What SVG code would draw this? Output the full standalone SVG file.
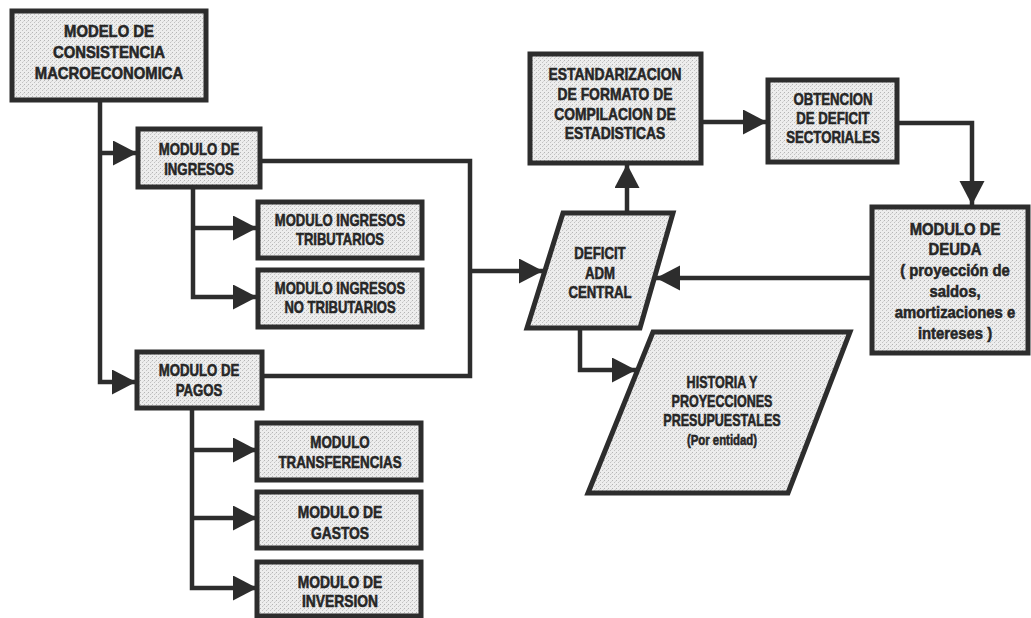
<svg xmlns="http://www.w3.org/2000/svg" width="1031" height="618" viewBox="0 0 1031 618">
  <defs>
    <!-- fine halftone grain used as box fill -->
    <pattern id="grain" width="4" height="4" patternUnits="userSpaceOnUse">
      <rect width="4" height="4" fill="#ededed"/>
      <rect x="0" y="0" width="1" height="1" fill="#b5b5b5"/>
      <rect x="2" y="2" width="1" height="1" fill="#c2c2c2"/>
      <rect x="3" y="1" width="1" height="1" fill="#d6d6d6"/>
    </pattern>
    <marker id="arrow" markerUnits="userSpaceOnUse" markerWidth="26" markerHeight="26" refX="24" refY="12.5" orient="auto">
      <path d="M0,0 L24,12.5 L0,25 z" fill="#2d2d2d"/>
    </marker>
    <style>
      .box { fill: url(#grain); stroke: #2d2d2d; stroke-width: 5; stroke-linejoin: miter; }
      .link { fill: none; stroke: #2d2d2d; stroke-width: 4.5; stroke-linejoin: miter; }
      .t { font-family: "Liberation Sans", Arial, sans-serif; font-weight: bold; font-size: 16.5px; fill: #262626; stroke: #262626; stroke-width: 0.55; text-anchor: middle; }
      .s { font-size: 15px; }
    </style>
  </defs>

  <rect width="1031" height="618" fill="#ffffff"/>

  <!-- connectors -->
  <g id="connectors">
    <path class="link" d="M100,100 V382 H136" marker-end="url(#arrow)"/>
    <path class="link" d="M100,153 H137" marker-end="url(#arrow)"/>
    <path class="link" d="M193,187 V297 H257" marker-end="url(#arrow)"/>
    <path class="link" d="M193,228 H257" marker-end="url(#arrow)"/>
    <path class="link" d="M192,408 V588 H257" marker-end="url(#arrow)"/>
    <path class="link" d="M192,450 H257" marker-end="url(#arrow)"/>
    <path class="link" d="M192,518 H257" marker-end="url(#arrow)"/>
    <path class="link" d="M260,161 H470 V376 H262"/>
    <path class="link" d="M470,271 H543" marker-end="url(#arrow)"/>
    <path class="link" d="M627,213 V164" marker-end="url(#arrow)"/>
    <path class="link" d="M701,122 H767" marker-end="url(#arrow)"/>
    <path class="link" d="M897,123 H972 V205" marker-end="url(#arrow)"/>
    <path class="link" d="M872,278 H656" marker-end="url(#arrow)"/>
    <path class="link" d="M580,328 V370 H636" marker-end="url(#arrow)"/>
  </g>

  <g id="modelo">
    <rect class="box" x="12" y="11" width="194" height="89"/>
    <text class="t" transform="translate(109 0) scale(0.9 1)"><tspan x="0" y="37">MODELO DE</tspan><tspan x="0" y="58">CONSISTENCIA</tspan><tspan x="0" y="79">MACROECONOMICA</tspan></text>
  </g>

  <g id="ingresos">
    <rect class="box" x="138" y="129" width="122" height="58"/>
    <text class="t" transform="translate(199 0) scale(0.8 1)"><tspan x="0" y="155">MODULO DE</tspan><tspan x="0" y="175">INGRESOS</tspan></text>
  </g>

  <g id="ing-tributarios">
    <rect class="box" x="258" y="202" width="164" height="56"/>
    <text class="t" transform="translate(340 0) scale(0.79 1)"><tspan x="0" y="226">MODULO INGRESOS</tspan><tspan x="0" y="245">TRIBUTARIOS</tspan></text>
  </g>

  <g id="ing-no-tributarios">
    <rect class="box" x="258" y="270" width="164" height="57"/>
    <text class="t" transform="translate(340 0) scale(0.79 1)"><tspan x="0" y="294">MODULO INGRESOS</tspan><tspan x="0" y="313">NO TRIBUTARIOS</tspan></text>
  </g>

  <g id="pagos">
    <rect class="box" x="137" y="352" width="125" height="56"/>
    <text class="t" transform="translate(199 0) scale(0.8 1)"><tspan x="0" y="376">MODULO DE</tspan><tspan x="0" y="396">PAGOS</tspan></text>
  </g>

  <g id="transferencias">
    <rect class="box" x="257" y="423" width="164" height="57"/>
    <text class="t" transform="translate(340 0) scale(0.81 1)"><tspan x="0" y="448">MODULO</tspan><tspan x="0" y="468">TRANSFERENCIAS</tspan></text>
  </g>

  <g id="gastos">
    <rect class="box" x="257" y="492" width="164" height="56"/>
    <text class="t" transform="translate(340 0) scale(0.84 1)"><tspan x="0" y="518">MODULO DE</tspan><tspan x="0" y="539">GASTOS</tspan></text>
  </g>

  <g id="inversion">
    <rect class="box" x="257" y="562" width="164" height="54"/>
    <text class="t" transform="translate(340 0) scale(0.84 1)"><tspan x="0" y="588">MODULO DE</tspan><tspan x="0" y="607">INVERSION</tspan></text>
  </g>

  <g id="estandarizacion">
    <rect class="box" x="530" y="54" width="171" height="109"/>
    <text class="t" transform="translate(615 0) scale(0.84 1)"><tspan x="0" y="80">ESTANDARIZACION</tspan><tspan x="0" y="100">DE FORMATO DE</tspan><tspan x="0" y="120">COMPILACION DE</tspan><tspan x="0" y="139">ESTADISTICAS</tspan></text>
  </g>

  <g id="obtencion">
    <rect class="box" x="768" y="80" width="129" height="82"/>
    <text class="t" transform="translate(833 0) scale(0.8 1)"><tspan x="0" y="105">OBTENCION</tspan><tspan x="0" y="124">DE DEFICIT</tspan><tspan x="0" y="143">SECTORIALES</tspan></text>
  </g>

  <g id="deuda">
    <rect class="box" x="872" y="207" width="156" height="146"/>
    <text class="t" transform="translate(955 0) scale(0.9 1)"><tspan x="0" y="235">MODULO DE</tspan><tspan x="0" y="255">DEUDA</tspan><tspan x="0" y="276">( proyección de</tspan><tspan x="0" y="297">saldos,</tspan><tspan x="0" y="318">amortizaciones e</tspan><tspan x="0" y="339">intereses )</tspan></text>
  </g>

  <g id="deficit">
    <polygon class="box" points="563,213 673,213 640,328 527,328"/>
    <text class="t" transform="translate(600 0) scale(0.8 1)"><tspan x="0" y="259">DEFICIT</tspan><tspan x="0" y="279">ADM</tspan><tspan x="0" y="298">CENTRAL</tspan></text>
  </g>

  <g id="historia">
    <polygon class="box" points="653,332 850,332 788,493 588,493"/>
    <text class="t" transform="translate(722 0) scale(0.76 1)"><tspan x="0" y="388">HISTORIA Y</tspan><tspan x="0" y="407">PROYECCIONES</tspan><tspan x="0" y="426">PRESUPUESTALES</tspan><tspan class="s" x="0" y="445">(Por entidad)</tspan></text>
  </g>
</svg>
